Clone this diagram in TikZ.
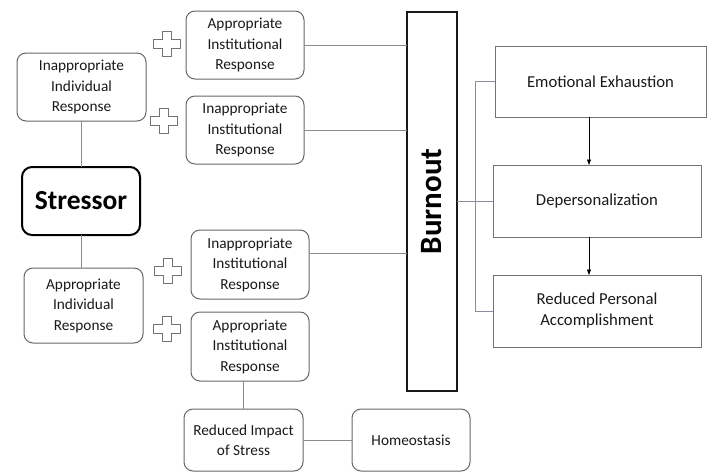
\documentclass[tikz,border=0pt]{standalone}
\usepackage{fontspec}
\setmainfont{Carlito}
\usetikzlibrary{arrows.meta,calc}
\begin{document}
\begin{tikzpicture}[x=1pt,y=-1pt,
  rbox/.style={draw=black!60,line width=1pt,rounded corners=9pt,inner sep=0pt,outer sep=0pt,
    align=center,font=\fontsize{15.3}{20.5}\selectfont,text=black!90},
  sbox/.style={draw=black!55,line width=1pt,inner sep=0pt,outer sep=0pt,
    align=center,font=\fontsize{16.7}{21}\selectfont,text=black!90},
  conn/.style={draw=black!45,line width=1pt},
  bconn/.style={draw=blue!15!black!45,line width=1pt},
  arr/.style={draw=black,line width=0.8pt,-{Triangle[length=5.5pt,width=4pt]}},
  plusc/.style={draw=black!55,line width=0.9pt,fill=white}
]
\useasboundingbox (0,0) rectangle (710,475);

% left column
\node[rbox,minimum width=129pt,minimum height=68pt] (iir) at (81.5,87) {Inappropriate\\Individual\\Response};
\node[rbox,draw=black,line width=2pt,rounded corners=10pt,minimum width=118pt,minimum height=68pt,
  font=\fontsize{27.5}{30}\selectfont\bfseries,text=black] (str) at (81,201) {Stressor};
\node[rbox,minimum width=119pt,minimum height=75pt] (air) at (83.5,305.5) {Appropriate\\Individual\\Response};

% institutional responses
\node[rbox,minimum width=118pt,minimum height=68pt] (ins1) at (245,45) {Appropriate\\Institutional\\Response};
\node[rbox,minimum width=118pt,minimum height=68pt] (ins2) at (245,130) {Inappropriate\\Institutional\\Response};
\node[rbox,minimum width=118pt,minimum height=69pt] (ins3) at (250,264.5) {Inappropriate\\Institutional\\Response};
\node[rbox,minimum width=118pt,minimum height=69pt] (ins4) at (250,346.5) {Appropriate\\Institutional\\Response};

% bottom
\node[rbox,minimum width=119pt,minimum height=62pt] (rim) at (243.5,440) {Reduced Impact\\of Stress};
\node[rbox,minimum width=118pt,minimum height=62pt] (hom) at (411,440) {Homeostasis};

% burnout
\node[draw=black!90,line width=1.5pt,inner sep=0pt,outer sep=0pt,minimum width=50pt,minimum height=379pt] (bur) at (432,201.5) {};
\node[rotate=90,font=\fontsize{31}{34}\selectfont\bfseries,text=black] (burt) at (bur.center) {Burnout};

% right boxes
\node[sbox,minimum width=211pt,minimum height=71pt] (ee) at (600.5,81.5) {Emotional Exhaustion};
\node[sbox,minimum width=208pt,minimum height=72pt] (dep) at (597,201) {Depersonalization};
\node[sbox,minimum width=208pt,minimum height=72pt] (rpa) at (597,311) {Reduced Personal\\Accomplishment};

% plus signs
\foreach \n/\cx/\cy in {p1/167/44, p2/164/121, p3/168/271, p4/167/329}{
  \draw[plusc] (\cx-4.5,\cy-12.5) -- (\cx+4.5,\cy-12.5) -- (\cx+4.5,\cy-4.5) -- (\cx+13.5,\cy-4.5)
    -- (\cx+13.5,\cy+4.5) -- (\cx+4.5,\cy+4.5) -- (\cx+4.5,\cy+12.5) -- (\cx-4.5,\cy+12.5)
    -- (\cx-4.5,\cy+4.5) -- (\cx-13.5,\cy+4.5) -- (\cx-13.5,\cy-4.5) -- (\cx-4.5,\cy-4.5) -- cycle;
}

% connectors left
\draw[conn] (iir.south) -- (iir.south |- str.north);
\draw[conn] (str.south) -- (str.south |- air.north);
\draw[conn] (ins1.east) -- (ins1.east -| bur.west);
\draw[conn] (ins2.east) -- (ins2.east -| bur.west);
\coordinate (l3) at ([yshift=11.5pt]ins3.east);
\draw[conn] (l3) -- (l3 -| bur.west);
\draw[conn] (rim.north) -- (rim.north |- ins4.south);
\draw[conn] (rim.east) -- (hom.west);

% connectors right
\draw[bconn] (bur.east |- dep.west) -- (dep.west);
\coordinate (bus) at (475,0);
\draw[bconn] (ee.west) -| (bus |- rpa.west) -- (rpa.west);
\coordinate (ax) at (589,0);
\draw[arr] (ax |- ee.south) -- (ax |- dep.north);
\draw[arr] (ax |- dep.south) -- (ax |- rpa.north);
\end{tikzpicture}
\end{document}
